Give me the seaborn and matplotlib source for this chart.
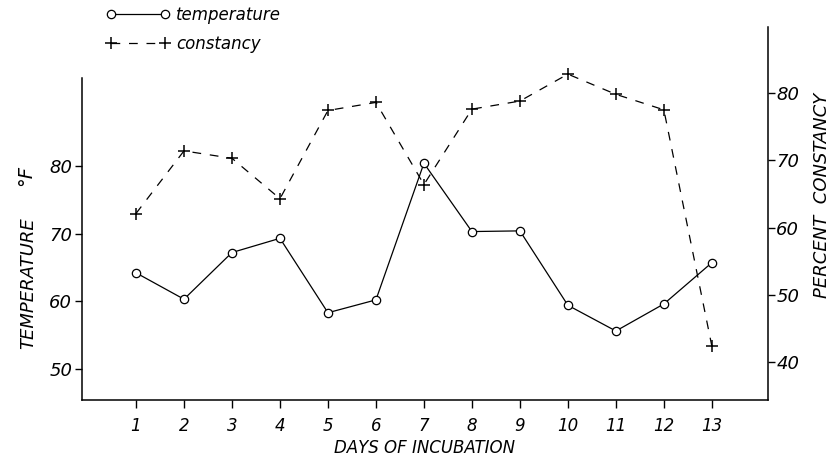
import matplotlib
matplotlib.use("Agg")
import matplotlib.pyplot as plt
import seaborn as sns
import pandas as pd

# values
days = [1, 2, 3, 4, 5, 6, 7, 8, 9, 10, 11, 12, 13]
temperature = [64.2, 60.3, 67.2, 69.3, 58.3, 60.2, 80.4, 70.3, 70.4, 59.4, 55.6, 59.6, 65.7]
constancy = [62.1, 71.4, 70.3, 64.3, 77.4, 78.6, 66.4, 77.6, 78.8, 82.8, 79.8, 77.5, 42.4]
temp_ticks = [50, 60, 70, 80]
const_ticks = [40, 50, 60, 70, 80]

data = pd.DataFrame({'day': days, 'temperature': temperature, 'constancy': constancy})

sns.set_style('ticks', rc={'axes.edgecolor': 'black', 'text.color': 'black',
                           'axes.labelcolor': 'black', 'xtick.color': 'black',
                           'ytick.color': 'black'})
plt.rcParams['font.family'] = ['DejaVu Sans']
plt.rcParams['font.style'] = 'italic'

fig = plt.figure(figsize=(8.31, 4.58), dpi=100)

# left axis (temperature) and a taller right axis (constancy)
ax = fig.add_axes([82 / 831, 1 - 400 / 458, 686 / 831, 322 / 458])
ax2 = fig.add_axes([82 / 831, 1 - 400 / 458, 686 / 831, 373 / 458])
ax2.patch.set_alpha(0)

sns.lineplot(x='day', y='temperature', data=data, ax=ax, color='black', lw=0.9,
             marker='o', markersize=6, markerfacecolor='white', markeredgecolor='black',
             markeredgewidth=0.9, label='temperature', legend=False)
sns.lineplot(x='day', y='constancy', data=data, ax=ax2, color='black', lw=0.9,
             linestyle=(0, (7, 7)), marker='+', markersize=9, markeredgewidth=1.1,
             markeredgecolor='black', label='constancy', legend=False)

ax.set_xlim(-0.125, 14.17)
ax2.set_xlim(-0.125, 14.17)
ax.set_ylim(45.4, 93.0)
ax2.set_ylim(34.4, 89.8)

ax.set_xticks(days)
ax.set_xticklabels([str(d) for d in days], fontsize=12)
ax.set_yticks(temp_ticks)
ax.set_yticklabels([str(t) for t in temp_ticks], fontsize=13)
ax.set_xlabel('DAYS OF INCUBATION', fontsize=12, labelpad=3)
ax.set_ylabel('')

ax2.set_xticks([])
ax2.yaxis.tick_right()
ax2.set_yticks(const_ticks)
ax2.set_yticklabels([str(t) for t in const_ticks], fontsize=13)
ax2.set_xlabel('')
ax2.set_ylabel('')

for s in ['top', 'right']:
    ax.spines[s].set_visible(False)
for s in ['top', 'left', 'bottom']:
    ax2.spines[s].set_visible(False)
for sp in ax.spines.values():
    sp.set_linewidth(1.1)
ax2.spines['right'].set_linewidth(1.1)

ax.tick_params(axis='x', direction='out', length=6, width=1, pad=6)
ax.tick_params(axis='y', direction='out', length=5, width=1, pad=2)
ax2.tick_params(axis='y', direction='out', length=5, width=1, pad=1, right=True, left=False)

# axis titles
fig.text(28 / 831, 1 - 283 / 458, 'TEMPERATURE', rotation=90, fontsize=13,
         ha='center', va='center')
fig.text(26 / 831, 1 - 176 / 458, '°F', rotation=90, fontsize=14,
         ha='center', va='center')
fig.text(822 / 831, 1 - 195 / 458, 'PERCENT  CONSTANCY', rotation=90, fontsize=13,
         ha='center', va='center')

# legend above the plot
h1, l1 = ax.get_legend_handles_labels()
h2, l2 = ax2.get_legend_handles_labels()
fig.legend(h1 + h2, l1 + l2, loc='upper left', bbox_to_anchor=(98 / 831, 1.005),
           frameon=False, numpoints=2, handlelength=3.8, handletextpad=0.4,
           labelspacing=0.65, fontsize=12, borderaxespad=0.1)

fig.savefig('out.png', dpi=100)
